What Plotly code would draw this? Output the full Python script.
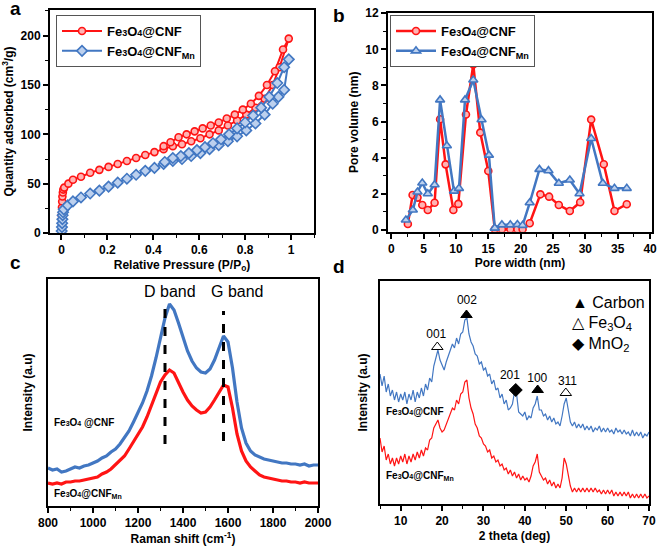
import plotly.graph_objects as go

# ---------------- Panel a : N2 isotherms ----------------
p_cnf = [0.001, 0.002, 0.003, 0.004, 0.006, 0.008, 0.012, 0.03, 0.05, 0.085, 0.125, 0.165, 0.205, 0.245,
         0.285, 0.325, 0.365, 0.405, 0.445, 0.485, 0.525, 0.565, 0.605, 0.645, 0.685, 0.725, 0.765,
         0.805, 0.845, 0.885, 0.92, 0.95, 0.99,
         0.965, 0.93, 0.895, 0.86, 0.825, 0.79, 0.755, 0.72, 0.685, 0.65, 0.615, 0.58, 0.545, 0.51,
         0.475, 0.445]
q_cnf = [18, 26, 32, 37, 41, 44, 46, 50, 54, 57, 61, 64, 67, 70,
         73, 76, 79, 82, 85, 88, 90, 93, 96, 100, 104, 109, 114,
         120, 127, 136, 150, 168, 197,
         186, 164, 150, 139, 131, 125, 120, 116, 112, 109, 106, 103, 100, 97,
         92, 88]
p_mn = [0.001, 0.002, 0.003, 0.004, 0.005, 0.007, 0.01, 0.027, 0.05, 0.085, 0.125, 0.165, 0.205, 0.245,
        0.285, 0.325, 0.365, 0.405, 0.445, 0.485, 0.525, 0.565, 0.605, 0.645, 0.685, 0.725, 0.765,
        0.805, 0.845, 0.885, 0.92, 0.945, 0.97, 0.99,
        0.97, 0.94, 0.905, 0.87, 0.835, 0.8, 0.765, 0.73, 0.695, 0.66, 0.625, 0.59, 0.555, 0.52,
        0.485, 0.45]
q_mn = [2, 6, 10, 14, 18, 21, 24, 28, 32, 36, 40, 43, 47, 51,
        55, 59, 63, 66, 70, 73, 75, 78, 81, 85, 89, 93, 98,
        104, 111, 120, 131, 138, 145, 176,
        168, 152, 138, 127, 119, 112, 106, 100, 95, 91, 87, 84, 81, 78,
        76, 72]

# ---------------- Panel b : pore size distribution ----------------
w_cnf = [2.57, 3.3, 4.06, 4.8, 5.65, 6.7, 7.55, 8.4, 9.6, 10.37, 11.55, 12.68, 13.76, 15.0, 16.0, 17.1,
         18.4, 19.5, 20.3, 21.4, 23.05, 24.4, 25.9, 27.6, 29.2, 30.9, 32.85, 34.5, 36.4]
v_cnf = [0.33, 1.93, 1.79, 1.38, 1.1, 1.5, 6.13, 3.63, 1.1, 1.44, 6.39, 9.17, 5.39, 3.26, 0.04, 0.04,
         0.04, 0.04, 0.04, 0.37, 1.97, 1.84, 1.38, 1.05, 1.53, 6.11, 3.64, 1.05, 1.42]
w_mn = [2.26, 3.34, 4.06, 4.8, 5.65, 6.7, 7.55, 8.6, 9.7, 10.47, 11.4, 12.68, 13.96, 15.1, 16.0, 17.1,
        18.4, 19.5, 20.3, 21.4, 22.9, 24.3, 25.9, 27.6, 29.1, 30.9, 32.7, 34.5, 36.4]
v_mn = [0.55, 1.1, 2.1, 2.6, 2.0, 2.5, 7.2, 4.66, 2.15, 2.3, 7.2, 8.3, 6.1, 4.14, 0.1, 0.28,
        0.28, 0.3, 0.25, 1.5, 3.35, 3.28, 2.58, 2.76, 2.0, 5.06, 2.58, 2.3, 2.3]

# ---------------- Panel c : Raman ----------------
raman_shift = list(range(800, 2001, 20))
raman_cnf = [38, 36, 37, 34, 35, 37, 39, 38, 40, 41, 43, 45, 48, 50, 54, 57, 62, 68, 75, 84,
             93, 103, 115, 130, 148, 168, 188, 202, 196, 183, 168, 155, 145, 138, 134, 133, 137, 146, 158, 170,
             164, 138, 104, 78, 63, 55, 51, 49, 47, 46, 45, 44, 43, 43, 42, 42, 41, 42, 40, 41, 41]
raman_mn = [23, 22, 23, 22, 24, 24, 25, 25, 26, 27, 28, 29, 32, 34, 37, 41, 45, 50, 57, 64,
            71, 79, 89, 100, 112, 124, 131, 136, 133, 123, 114, 106, 100, 96, 93, 94, 99, 106, 114, 121,
            119, 98, 72, 55, 45, 39, 35, 31, 29, 28, 27, 26, 25, 25, 24, 24, 23, 24, 23, 23, 23]
band_pos = [1320, 1580]
band_top = [204, 195]
band_bot = [62, 65]
band_names = ["D band", "G band"]
band_label_x = [1342, 1641]

# ---------------- Panel d : XRD ----------------
theta_start, theta_step = 5.0, 0.5
xrd_cnf = [130, 118, 128, 112, 120, 108, 114, 104, 112, 102,
           110, 104, 112, 100, 110, 104, 114, 102, 112, 106,
           116, 108, 120, 114, 126, 122, 138, 146, 154, 144,
           138, 134, 142, 148, 154, 160, 156, 166, 160, 170,
           172, 184, 186, 170, 162, 158, 150, 148, 140, 142,
           134, 136, 128, 130, 120, 124, 114, 116, 106, 110,
           100, 104, 94, 96, 100, 112, 110, 92, 90, 88,
           92, 84, 88, 86, 96, 100, 108, 94, 94, 88,
           90, 84, 88, 82, 86, 80, 82, 78, 88, 100,
           106, 92, 82, 78, 82, 76, 80, 76, 80, 74,
           78, 74, 78, 72, 76, 74, 78, 72, 76, 72,
           76, 72, 74, 70, 76, 72, 74, 70, 74, 70,
           72, 68, 74, 68, 72, 68, 72, 66, 70, 68,
           72]
xrd_mn = [66, 52, 58, 44, 50, 40, 46, 38, 46, 40,
          48, 42, 50, 40, 48, 42, 50, 44, 52, 46,
          54, 48, 56, 54, 64, 66, 76, 80, 84, 76,
          72, 74, 80, 86, 90, 96, 94, 104, 100, 110,
          112, 122, 124, 106, 96, 90, 80, 76, 68, 66,
          60, 58, 52, 54, 46, 48, 42, 44, 38, 40,
          34, 36, 30, 34, 28, 32, 26, 30, 24, 28,
          24, 26, 22, 28, 38, 42, 50, 32, 28, 24,
          26, 20, 24, 18, 22, 16, 20, 16, 26, 46,
          40, 28, 18, 12, 16, 12, 16, 12, 16, 12,
          16, 12, 16, 12, 16, 12, 14, 10, 14, 10,
          14, 10, 14, 8, 12, 8, 12, 8, 12, 8,
          12, 6, 10, 6, 10, 6, 10, 6, 10, 6,
          8]
two_theta = [theta_start + theta_step * i for i in range(len(xrd_cnf))]
peak_pos = [18.85, 25.9, 37.8, 43.1, 49.9]
peak_y = [157, 189, 114, 114, 111]
peak_label_x = [18.6, 26.0, 36.4, 43.0, 50.3]
peak_label_y = [169, 203, 128, 125, 122]
peak_labels = ["001", "002", "201", "100", "311"]
peak_symbols = ["triangle-up-open", "triangle-up", "diamond", "triangle-up", "triangle-up-open"]

RED = "#ff1414"
BLUE = "#4277c2"
FONT = "Liberation Sans, Arial, sans-serif"

def cnf_label(mn=False, small=9):
    s = ("Fe<span style='font-size:%dpx'>3</span>O<span style='font-size:%dpx'>4</span>@CNF" % (small, small))
    if mn:
        s += "<sub>Mn</sub>"
    return s

fig = go.Figure()

# Panel a
fig.add_trace(go.Scatter(x=p_cnf, y=q_cnf, mode="lines+markers", name=cnf_label(),
                         line=dict(color=RED, width=2),
                         marker=dict(symbol="circle", size=7, color="#ffb3b3", line=dict(color=RED, width=1.6)),
                         xaxis="x", yaxis="y", legend="legend"))
fig.add_trace(go.Scatter(x=p_mn, y=q_mn, mode="lines+markers", name=cnf_label(True),
                         line=dict(color=BLUE, width=2),
                         marker=dict(symbol="diamond", size=8, color="#bcd0ee", line=dict(color=BLUE, width=1.6)),
                         xaxis="x", yaxis="y", legend="legend"))

# Panel b
fig.add_trace(go.Scatter(x=w_cnf, y=v_cnf, mode="lines+markers", name=cnf_label(),
                         line=dict(color=RED, width=2.5),
                         marker=dict(symbol="circle", size=7, color="#ffb3b3", line=dict(color=RED, width=1.6)),
                         xaxis="x2", yaxis="y2", legend="legend2"))
fig.add_trace(go.Scatter(x=w_mn, y=v_mn, mode="lines+markers", name=cnf_label(True),
                         line=dict(color=BLUE, width=2.5),
                         marker=dict(symbol="triangle-up", size=8, color="#bcd0ee", line=dict(color=BLUE, width=1.6)),
                         xaxis="x2", yaxis="y2", legend="legend2"))

# Panel c
fig.add_trace(go.Scatter(x=raman_shift, y=raman_cnf, mode="lines", line=dict(color=BLUE, width=3.2),
                         showlegend=False, xaxis="x3", yaxis="y3"))
fig.add_trace(go.Scatter(x=raman_shift, y=raman_mn, mode="lines", line=dict(color=RED, width=3.2),
                         showlegend=False, xaxis="x3", yaxis="y3"))
for bx, bt, bb in zip(band_pos, band_top, band_bot):
    fig.add_trace(go.Scatter(x=[bx, bx], y=[bb, bt], mode="lines",
                             line=dict(color="black", width=3, dash="dash"),
                             showlegend=False, xaxis="x3", yaxis="y3"))

# Panel d
fig.add_trace(go.Scatter(x=two_theta, y=xrd_cnf, mode="lines", line=dict(color=BLUE, width=1.2),
                         showlegend=False, xaxis="x4", yaxis="y4"))
fig.add_trace(go.Scatter(x=two_theta, y=xrd_mn, mode="lines", line=dict(color=RED, width=1.2),
                         showlegend=False, xaxis="x4", yaxis="y4"))
fig.add_trace(go.Scatter(x=peak_pos, y=peak_y, mode="markers",
                         marker=dict(symbol=peak_symbols, size=10, color="black", line=dict(color="black", width=1)),
                         showlegend=False, xaxis="x4", yaxis="y4"))
fig.add_trace(go.Scatter(x=peak_label_x, y=peak_label_y, mode="text", text=peak_labels,
                         textfont=dict(family=FONT, size=12, color="black"),
                         showlegend=False, xaxis="x4", yaxis="y4"))

tickfont = dict(family=FONT, size=12, color="black", weight="bold")
titlefont = dict(family=FONT, size=12, color="black", weight="bold")

def xax(domain, rng, dtick, minor_dtick, anchor, title):
    return dict(domain=domain, range=rng, dtick=dtick, anchor=anchor, showline=True, linecolor="black",
                linewidth=2, mirror=True, ticks="outside", ticklen=5, tickwidth=1.5, tickcolor="black",
                showgrid=False, zeroline=False, tickfont=tickfont, automargin=False,
                ticklabeloverflow="allow",
                title=dict(text=title, font=titlefont, standoff=4),
                minor=dict(ticks="outside", ticklen=3, tickwidth=1.2, tickcolor="black", dtick=minor_dtick,
                           showgrid=False))

def yax(domain, rng, dtick, minor_dtick, anchor, title, show=True, standoff=4):
    d = dict(domain=domain, range=rng, anchor=anchor, showline=True, linecolor="black",
             linewidth=2, mirror=True, showgrid=False, zeroline=False, automargin=False,
             title=dict(text=title, font=titlefont, standoff=standoff))
    if show:
        d.update(dtick=dtick, ticks="outside", ticklen=5, tickwidth=1.5, tickcolor="black", tickfont=tickfont,
                 ticklabeloverflow="allow",
                 minor=dict(ticks="outside", ticklen=3, tickwidth=1.2, tickcolor="black", dtick=minor_dtick,
                            showgrid=False))
    else:
        d.update(showticklabels=False, ticks="")
    return d

W, H = 660, 548
def dx(a, b):
    return [a / W, b / W]
def dy(top, bot):
    return [1 - bot / H, 1 - top / H]
def px(a):
    return a / W
def py(b):
    return 1 - b / H

fig.update_layout(
    width=W, height=H, margin=dict(l=0, r=0, t=0, b=0, autoexpand=False),
    paper_bgcolor="white", plot_bgcolor="white",
    font=dict(family=FONT, color="black"),
    xaxis=xax(dx(50, 314), [-0.05, 1.1], 0.2, 0.1, "y", "Relative Pressure (P/P<sub>o</sub>)"),
    yaxis=yax(dy(10, 233), [0, 226], 50, 25, "x", "Quantity adsorbed (cm<sup>3</sup>/g)"),
    xaxis2=xax(dx(388, 652), [-0.5, 40.3], 5, 2.5, "y2", "Pore width (nm)"),
    yaxis2=yax(dy(12.7, 231.7), [-0.1, 12.03], 2, 1, "x2", "Pore volume (nm)"),
    xaxis3=xax(dx(48, 318), [800, 2000], 200, 100, "y3", "Raman shift (cm<sup>-1</sup>)"),
    yaxis3=yax(dy(279, 506), [0, 227], None, None, "x3", "Intensity (a.u)", show=False, standoff=11),
    xaxis4=xax(dx(380, 649), [5, 70], 10, 5, "y4", "2 theta (deg)"),
    yaxis4=yax(dy(281, 504), [0, 223], None, None, "x4", "Intensity (a.u)", show=False, standoff=8),
    legend=dict(x=px(56), y=py(15), xanchor="left", yanchor="top", bordercolor="#555555", borderwidth=1,
                bgcolor="white", font=dict(family=FONT, size=13, color="black", weight="bold"),
                tracegroupgap=0, itemwidth=40),
    legend2=dict(x=px(390), y=py(15), xanchor="left", yanchor="top", bordercolor="#555555", borderwidth=1,
                 bgcolor="white", font=dict(family=FONT, size=13, color="black", weight="bold"),
                 tracegroupgap=0, itemwidth=40),
)

annotations = []
for letter, lx, ly in [("a", 15, 9), ("b", 339, 16), ("c", 15, 262), ("d", 339, 266)]:
    annotations.append(dict(text=letter, x=px(lx), y=py(ly), xref="paper", yref="paper",
                            showarrow=False, xanchor="center", yanchor="middle",
                            font=dict(family=FONT, size=19, color="black", weight="bold")))
for name, lx in zip(band_names, band_label_x):
    annotations.append(dict(text=name, x=lx, y=215, xref="x3", yref="y3", showarrow=False,
                            xanchor="center", yanchor="middle", font=dict(family=FONT, size=16, color="black")))
annotations.append(dict(text="Fe<span style='font-size:7px'>3</span>O<span style='font-size:7px'>4</span> @CNF",
                        x=816, y=84, xref="x3", yref="y3", showarrow=False, xanchor="left", yanchor="middle",
                        font=dict(family=FONT, size=10, color="black", weight="bold")))
annotations.append(dict(text=cnf_label(True, 7), x=816, y=12, xref="x3", yref="y3", showarrow=False,
                        xanchor="left", yanchor="middle",
                        font=dict(family=FONT, size=10, color="black", weight="bold")))
annotations.append(dict(text=cnf_label(False, 7), x=6.0, y=93, xref="x4", yref="y4", showarrow=False,
                        xanchor="left", yanchor="middle",
                        font=dict(family=FONT, size=10, color="black", weight="bold")))
annotations.append(dict(text=cnf_label(True, 7), x=6.0, y=28, xref="x4", yref="y4", showarrow=False,
                        xanchor="left", yanchor="middle",
                        font=dict(family=FONT, size=10, color="black", weight="bold")))
for txt, ky in [("\u25B2 Carbon", 202), ("\u25B3 Fe<sub>3</sub>O<sub>4</sub>", 181), ("\u25C6 MnO<sub>2</sub>", 160)]:
    annotations.append(dict(text=txt, x=51.0, y=ky, xref="x4", yref="y4", showarrow=False,
                            xanchor="left", yanchor="middle", font=dict(family=FONT, size=16, color="black")))
fig.update_layout(annotations=annotations)

# remove the default 8px page margin so the 660x548 figure fills the window exactly
fig.write_html("out.html", config={"displayModeBar": False},
               post_script="document.body.style.margin='0px';")
